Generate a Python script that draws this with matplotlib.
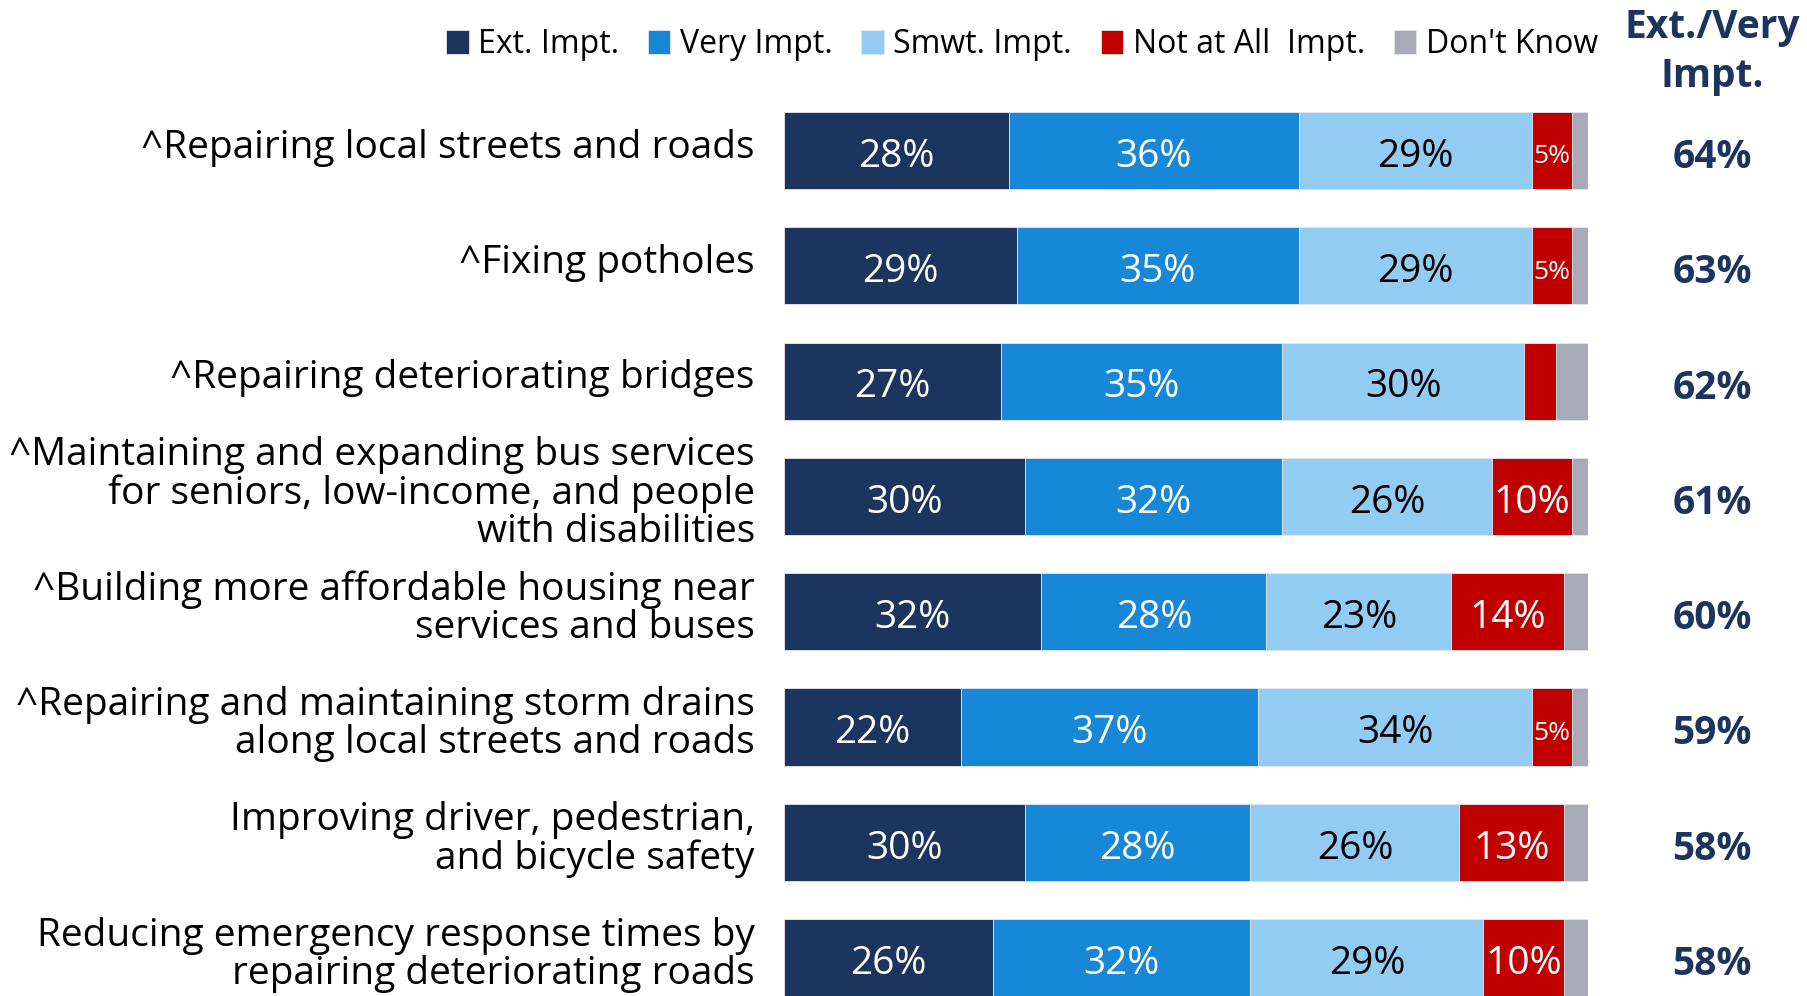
import numpy as np
import matplotlib.pyplot as plt
from matplotlib.transforms import blended_transform_factory

plt.rcParams['font.family'] = ['Open Sans', 'DejaVu Sans']

categories = [
    "^Repairing local streets and roads",
    "^Fixing potholes",
    "^Repairing deteriorating bridges",
    "^Maintaining and expanding bus services\nfor seniors, low-income, and people\nwith disabilities",
    "^Building more affordable housing near\nservices and buses",
    "^Repairing and maintaining storm drains\nalong local streets and roads",
    "Improving driver, pedestrian,\nand bicycle safety",
    "Reducing emergency response times by\nrepairing deteriorating roads",
]
ext_impt = [28, 29, 27, 30, 32, 22, 30, 26]
very_impt = [36, 35, 35, 32, 28, 37, 28, 32]
smwt_impt = [29, 29, 30, 26, 23, 34, 26, 29]
not_at_all = [5, 5, 4, 10, 14, 5, 13, 10]
dont_know = [2, 2, 4, 2, 3, 2, 3, 3]
ext_very_total = [64, 63, 62, 61, 60, 59, 58, 58]

series_names = ["Ext. Impt.", "Very Impt.", "Smwt. Impt.", "Not at All  Impt.", "Don't Know"]
series_vals = [ext_impt, very_impt, smwt_impt, not_at_all, dont_know]
colors = ["#1C355E", "#1787D8", "#92CCF3", "#C00000", "#A9AAB8"]
text_colors = ["white", "white", "black", "white", None]
navy = "#1C355E"

fig = plt.figure(figsize=(18.08, 9.96), dpi=100)
ax = fig.add_axes([784 / 1808, 0, 804 / 1808, 1])

y = np.arange(len(categories))
left = np.zeros(len(categories))
bars = []
for name, vals, col, tcol in zip(series_names, series_vals, colors, text_colors):
    vals = np.array(vals, dtype=float)
    b = ax.barh(y, vals, left=left, height=0.668, color=col, edgecolor="#E6E6EE",
                linewidth=0.6, label=name)
    bars.append(b)
    if tcol is not None:
        for yi, l, v in zip(y, left, vals):
            if v < 5:
                continue
            ax.annotate(f"{int(v)}%", xy=(l + v / 2, yi), xytext=(0, -4.5),
                        textcoords="offset points", ha="center", va="center",
                        color=tcol, fontsize=19 if v <= 5 else 28)
    left += vals

ax.set_xlim(0, 100)
ax.set_ylim(7.333, -1.305)
ax.set_yticks([])
ax.tick_params(axis="x", bottom=False, labelbottom=False)
for s in ax.spines.values():
    s.set_visible(False)

for yi, cat in zip(y, categories):
    ax.annotate(cat, xy=(0, yi), xytext=(-21, 2), textcoords="offset points",
                ha="right", va="center", fontsize=28, linespacing=1.0, color="black")

trans = blended_transform_factory(fig.transFigure, ax.transData)
for yi, tot in zip(y, ext_very_total):
    ax.annotate(f"{tot}%", xy=(1712 / 1808, yi), xycoords=trans, xytext=(0, -5),
                textcoords="offset points", ha="center", va="center",
                fontsize=28, fontweight="bold", color=navy)

fig.text(1712 / 1808, 0.948, "Ext./Very\nImpt.", ha="center", va="center", fontsize=28,
         fontweight="bold", color=navy, linespacing=1.35)

fig.legend(handles=bars, labels=series_names, loc="center", bbox_to_anchor=(1022 / 1808, 0.955),
           ncol=5, frameon=False, fontsize=23, handlelength=0.7, handleheight=0.8,
           handletextpad=0.3, columnspacing=0.9, borderaxespad=0)

fig.savefig("out.png", dpi=100)
